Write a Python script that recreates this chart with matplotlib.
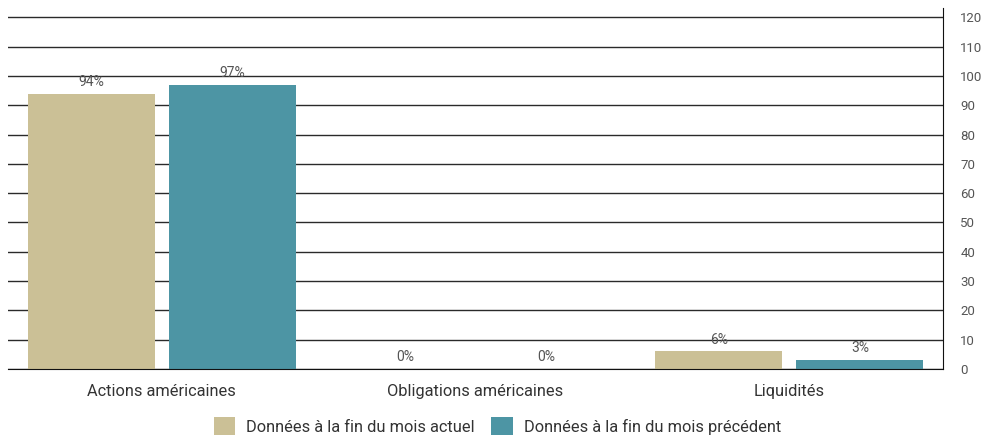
import matplotlib.pyplot as plt
import numpy as np

plt.rcParams['font.family'] = ['Roboto', 'DejaVu Sans']

categories = ['Actions américaines', 'Obligations américaines', 'Liquidités']
current = [94, 0, 6]
previous = [97, 0, 3]
series_names = ['Données à la fin du mois actuel', 'Données à la fin du mois précédent']
colors = ['#cbc096', '#4d95a4']

fig = plt.figure(figsize=(9.81, 4.36), dpi=100)
ax = fig.add_axes([8 / 981, 67 / 436, 935 / 981, 361 / 436])

x = np.arange(len(categories))
w = 0.4045
b1 = ax.bar(x - 0.2245, current, w, color=colors[0], label=series_names[0], zorder=2)
b2 = ax.bar(x + 0.2245, previous, w, color=colors[1], label=series_names[1], zorder=2)

for bars, vals in [(b1, current), (b2, previous)]:
    for rect, v in zip(bars, vals):
        ax.annotate(f'{v}%', (rect.get_x() + rect.get_width() / 2, v),
                    xytext=(0, 8.5), textcoords='offset points', ha='center',
                    va='center', fontsize=10, color='#555555', zorder=3)

ax.set_xlim(1 - 1.489, 1 + 1.489)
ax.set_ylim(0, 123.2)
ax.set_yticks(range(0, 121, 10))
ax.yaxis.tick_right()
ax.grid(axis='y', color='#2a2a2a', linewidth=1, zorder=0)
ax.set_xticks(x)
ax.set_xticklabels(categories, fontsize=11.8, color='#333333')
ax.tick_params(axis='both', length=0)
ax.tick_params(axis='y', labelsize=9.5, labelcolor='#555555', pad=12.5)
ax.tick_params(axis='x', pad=10.5)
for s in ['top', 'left']:
    ax.spines[s].set_visible(False)
ax.spines['right'].set_color('#111111')
ax.spines['bottom'].set_color('#111111')

ax.legend(loc='center', bbox_to_anchor=(0.5235, -0.158), ncol=2, frameon=False,
          fontsize=11.8, handlelength=1.3, handleheight=1.25, columnspacing=1.0,
          handletextpad=0.7, labelcolor='#333333')

fig.savefig('out.png', dpi=100)
